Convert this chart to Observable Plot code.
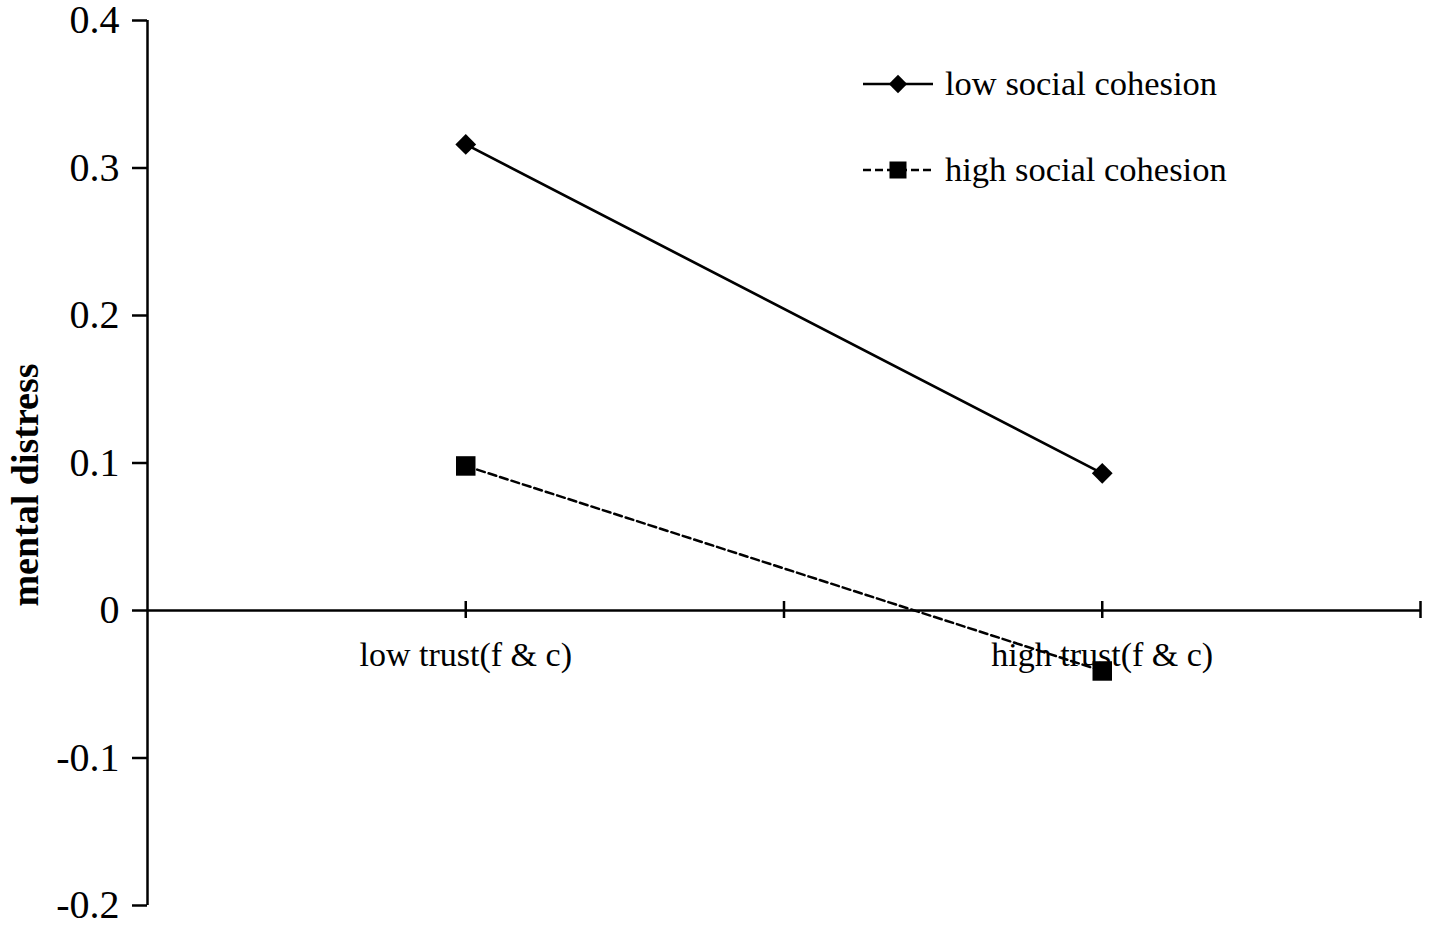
<!DOCTYPE html>
<html>
<head>
<meta charset="utf-8">
<script src="https://cdn.jsdelivr.net/npm/d3@7"></script>
<script src="https://cdn.jsdelivr.net/npm/@observablehq/plot@0.6"></script>
<style>
  html, body { margin: 0; padding: 0; background: #fff; }
  #chart { position: relative; width: 1429px; height: 927px; font-family: "Liberation Serif", "Times New Roman", serif; }
  #legend { position: absolute; left: 0; top: 0; pointer-events: none; }
</style>
</head>
<body>
<div id="chart"></div>
<script>
// ---- data ----
const categories = ["low trust(f & c)", "high trust(f & c)"];
const seriesNames = ["low social cohesion", "high social cohesion"];
const lowCohesion = [0.316, 0.093];
const highCohesion = [0.098, -0.041];
const yTicks = [-0.2, -0.1, 0, 0.1, 0.2, 0.3, 0.4];
const yTitle = "mental distress";

// ---- build rows ----
const lowRows = categories.map((c, i) => ({series: seriesNames[0], cat: c, pos: i + 0.5, value: lowCohesion[i]}));
const highRows = categories.map((c, i) => ({series: seriesNames[1], cat: c, pos: i + 0.5, value: highCohesion[i]}));
const xTickPos = [];
categories.forEach((c, i) => { xTickPos.push(i + 0.5, i + 1); });

const font = "Liberation Serif";

const plot = Plot.plot({
  width: 1429,
  height: 927,
  marginLeft: 147,
  marginRight: 9,
  marginTop: 20,
  marginBottom: 22,
  style: {fontFamily: font, fontSize: "40px", color: "#000", background: "#fff"},
  x: {domain: [0, categories.length], axis: null},
  y: {domain: [-0.2, 0.4], axis: null},
  marks: [
    Plot.axisY({ticks: yTicks, tickSize: 15, tickPadding: 13, tickFormat: d => String(d), label: null, strokeWidth: 2.5, fontSize: 40}),
    Plot.ruleX([0], {y1: -0.2, y2: 0.4, strokeWidth: 2.5}),
    Plot.ruleY([0], {strokeWidth: 2.5}),
    Plot.ruleX(xTickPos, {x: d => d, y1: () => 0, y2: () => 0, insetTop: 8, insetBottom: 9, strokeWidth: 2.5}),
    Plot.text(categories, {x: (d, i) => i + 0.5, y: () => 0, dy: 45, text: d => d, fontSize: 34, fill: "#000"}),
    Plot.text([yTitle], {frameAnchor: "left", textAnchor: "middle", text: d => d, rotate: -90, dx: -122, dy: 22, fontSize: 38, fontWeight: "bold", fill: "#000"}),
    Plot.line(lowRows, {x: "pos", y: "value", stroke: "#000", strokeWidth: 2.7}),
    Plot.line(highRows, {x: "pos", y: "value", stroke: "#000", strokeWidth: 2.5, strokeDasharray: "8,4"}),
    Plot.dot(lowRows, {x: "pos", y: "value", symbol: "square", r: 8.3, rotate: 45, fill: "#000", stroke: "none"}),
    Plot.dot(highRows, {x: "pos", y: "value", symbol: "square", r: 11, fill: "#000", stroke: "none"})
  ]
});
const chart = document.getElementById("chart");
chart.appendChild(plot);

// ---- legend (overlay) ----
const leg = d3.select(chart).append("svg").attr("id", "legend").attr("width", 1429).attr("height", 927);
const legendItems = [
  {name: seriesNames[0], y: 84, dash: null, symbol: "diamond"},
  {name: seriesNames[1], y: 170, dash: "8,4", symbol: "square"}
];
legendItems.forEach(it => {
  leg.append("line").attr("x1", 863).attr("x2", 933).attr("y1", it.y).attr("y2", it.y)
    .attr("stroke", "#000").attr("stroke-width", 2.5).attr("stroke-dasharray", it.dash);
  if (it.symbol === "diamond") {
    leg.append("rect").attr("x", -6.5).attr("y", -6.5).attr("width", 13).attr("height", 13)
      .attr("transform", `translate(898,${it.y}) rotate(45)`).attr("fill", "#000");
  } else {
    leg.append("rect").attr("x", 898 - 8.5).attr("y", it.y - 8.5).attr("width", 17).attr("height", 17).attr("fill", "#000");
  }
  leg.append("text").attr("x", 945).attr("y", it.y).attr("dy", "0.32em")
    .attr("font-family", font).attr("font-size", 34.5).attr("fill", "#000").text(it.name);
});
</script>
</body>
</html>
